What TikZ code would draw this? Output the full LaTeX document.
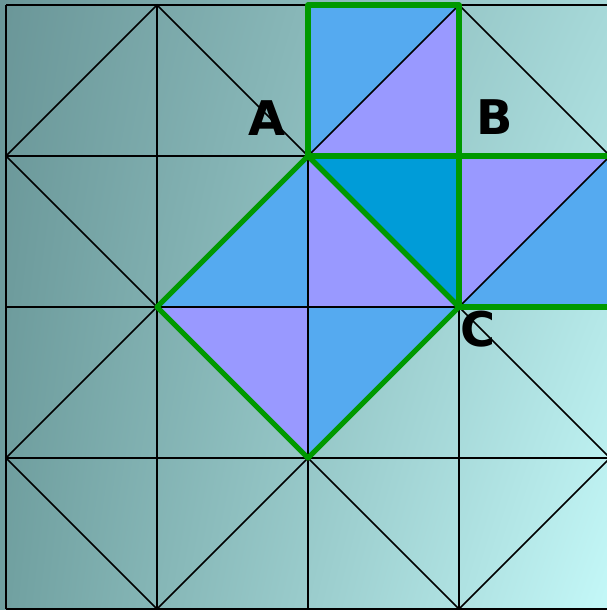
\documentclass[tikz,border=0pt]{standalone}
\usepackage{fontspec}
\newfontfamily\labelfont{DejaVu Sans}
\usepackage{tikz}
\usetikzlibrary{shadings}
\definecolor{tileblue}{HTML}{55AAF0}
\definecolor{tilepurple}{HTML}{9999FF}
\definecolor{tiledeep}{HTML}{009CD8}
\definecolor{edgegreen}{HTML}{009900}
\definecolor{bgtl}{HTML}{6A9698}
\definecolor{bgtr}{HTML}{A6D8D8}
\definecolor{bgbl}{HTML}{70A0A0}
\definecolor{bgbr}{HTML}{C4F8F8}

\begin{document}
\begin{tikzpicture}[x=1.5cm,y=-1.5cm,
  gridline/.style={draw=black,line width=0.55pt},
  diagline/.style={draw=black,line width=0.45pt},
  blue tile/.style={fill=tileblue},
  purple tile/.style={fill=tilepurple},
  deep tile/.style={fill=tiledeep},
  outline/.style={draw=edgegreen,line width=1.45pt,line join=round},
  pointlabel/.style={font=\labelfont\bfseries\fontsize{13.5}{16}\selectfont,inner sep=0pt}
]

% Hintergrund
\useasboundingbox (-0.0397,-0.0331) rectangle (3.9801,4.0066);
\shade[upper left=bgtl,upper right=bgtr,lower left=bgbl,lower right=bgbr]
  (-0.0397,-0.0331) rectangle (3.9801,4.0066);

% Eckpunkte
\coordinate (a) at (2,1);
\coordinate (c) at (3,2);

% Gefaerbte Dreiecke
\fill[blue tile] (2,0) -- (3,0) -- (a) -- cycle;
\fill[blue tile] (4,1) -- (4,2) -- (c) -- cycle;
\fill[blue tile] (a) -- (2,2) -- (1,2) -- cycle;
\fill[blue tile] (2,2) -- (c) -- (2,3) -- cycle;
\fill[purple tile] (3,0) -- (3,1) -- (a) -- cycle;
\fill[purple tile] (a) -- (2,2) -- (c) -- cycle;
\fill[purple tile] (3,1) -- (4,1) -- (c) -- cycle;
\fill[purple tile] (1,2) -- (2,2) -- (2,3) -- cycle;
\fill[deep tile] (a) -- (3,1) -- (c) -- cycle;

% Raster und Rauten
\foreach \i in {0,...,4} {
  \draw[gridline] (\i,0) -- (\i,4);
  \draw[gridline] (0,\i) -- (4,\i);
}
\foreach \bx in {0,2}
  \foreach \by in {0,2}
    \draw[diagline] (\bx+1,\by) -- (\bx,\by+1) -- (\bx+1,\by+2) -- (\bx+2,\by+1) -- cycle;

% Gruene Umrisse
\draw[outline] (2,0) rectangle (3,1);
\draw[outline] (a) -- (4,1);
\draw[outline] (3,1) -- (c) -- (4,2);
\draw[outline] (a) -- (c);
\draw[outline] (a) -- (1,2) -- (2,3) -- (c) -- cycle;

% Beschriftung
\node[pointlabel] (lA) at (1.728,0.748) {A};
\node[pointlabel] (lB) at (3.235,0.745) {B};
\node[pointlabel] (lC) at (3.129,2.149) {C};

\end{tikzpicture}
\end{document}
